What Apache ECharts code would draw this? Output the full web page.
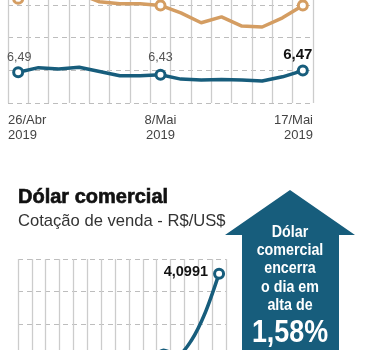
<!DOCTYPE html>
<html>
<head>
<meta charset="utf-8">
<script src="https://cdn.jsdelivr.net/npm/echarts@6/dist/echarts.min.js"></script>
<style>
html, body { margin: 0; padding: 0; background: #fff; }
#chart { width: 369px; height: 350px; }
</style>
</head>
<body>
<div id="chart"></div>
<script>
// pregoes de 26/Abr a 17/Mai 2019 (indice do grafico de cima)
let days = ["26/Abr", "29/Abr", "30/Abr", "2/Mai", "3/Mai", "6/Mai", "7/Mai", "8/Mai", "9/Mai", "10/Mai", "13/Mai", "14/Mai", "15/Mai", "16/Mai", "17/Mai"]
let orangeValues = [31.8, 34.0, 34.3, 33.3, 30.9, 30.3, 30.3, 29.8, 27.5, 24.5, 26.3, 23.5, 23.2, 26.0, 29.8]
let tealValues = [9.4, 10.8, 10.4, 10.9, 9.6, 8.3, 8.3, 8.6, 7.3, 7.0, 7.2, 7.0, 6.7, 8.0, 9.9]
let tealLabels = {0: "6,49", 7: "6,43", 14: "6,47"}
let dateTicks = ["26/Abr\n2019", "8/Mai\n2019", "17/Mai\n2019"]

// dolar comercial, cotacao de venda ao longo do dia
let hours = ["9h30", "10h", "10h30", "11h", "11h30", "12h", "12h30", "13h", "13h30", "14h", "14h30", "15h", "15h30", "16h", "16h30"]
let dollarValues = [4.0900, 4.0908, 4.0915, 4.0920, 4.0918, 4.0926, 4.0931, 4.0936, 4.0934, 4.0938, 4.0944, 4.0941, 4.0950, 4.0967, 4.0991]

const TEAL = "#175d7c"
const ORANGE = "#d49d62"
const GRID = "#cccccc"
const NARROW = "bold 17px 'Liberation Sans', sans-serif"

let chart = echarts.init(document.getElementById("chart"), null, {renderer: "canvas"})

let tealData = tealValues.map((v, i) => {
	let item = {value: v, symbol: "none"}
	if (tealLabels[i] !== undefined) {
		item.symbol = "circle"
		let last = i === tealValues.length - 1
		item.label = {
			show: true,
			position: "top",
			distance: i === 7 ? 5 : (last ? 2 : 2),
			offset: i === 0 ? [1, 0] : (last ? [-5, 0] : [0, 0]),
			formatter: tealLabels[i],
			fontFamily: "Liberation Sans",
			fontSize: last ? 15 : 12.5,
			fontWeight: last ? "bold" : "normal",
			color: last ? "#111" : "#555"
		}
	}
	return item
})

let orangeData = orangeValues.map((v, i) => ({
	value: v,
	symbol: tealLabels[i] !== undefined ? "circle" : "none"
}))

let dollarData = dollarValues.map((v, i) => {
	let last = i === dollarValues.length - 1
	let item = {value: v, symbol: last ? "circle" : "none"}
	if (last) {
		item.label = {
			show: true,
			position: "left",
			distance: 5,
			offset: [0, -2],
			formatter: v.toFixed(4).replace(".", ","),
			fontFamily: "Liberation Sans",
			fontSize: 14.5,
			fontWeight: "bold",
			color: "#111"
		}
	}
	return item
})

let option = {
	animation: false,
	title: [
		{
			text: "Dólar comercial",
			left: 18,
			top: 187,
			padding: 0,
			textStyle: {fontFamily: "Liberation Sans", fontSize: 20, fontWeight: "bold", color: "#111",
				textBorderColor: "#111", textBorderWidth: 0.6}
		},
		{
			text: "Cotação de venda - R$/US$",
			left: 18,
			top: 213,
			padding: 0,
			textStyle: {fontFamily: "Liberation Sans", fontSize: 16.6, fontWeight: "normal", color: "#333"}
		}
	],
	grid: [
		{left: 8, right: 56, top: -28, bottom: 247, outerBoundsMode: "none", containLabel: false},
		{left: 18, right: 143, top: 259, bottom: -137, outerBoundsMode: "none", containLabel: false}
	],
	xAxis: [
		{
			gridIndex: 0,
			type: "category",
			data: days,
			boundaryGap: true,
			axisLine: {show: false},
			axisTick: {show: false},
			axisLabel: {show: false},
			splitLine: {show: true, interval: 0, lineStyle: {color: GRID, width: 1.3}}
		},
		{
			gridIndex: 0,
			type: "value",
			min: 0,
			max: 15,
			interval: 7.5,
			position: "bottom",
			axisLine: {show: false},
			axisTick: {show: false},
			splitLine: {show: false},
			axisLabel: {
				margin: 10,
				alignMinLabel: "left",
				alignMaxLabel: "right",
				lineHeight: 15,
				fontFamily: "Liberation Sans",
				fontSize: 13,
				color: "#444",
				formatter: v => dateTicks[Math.round(v / 7.5)]
			}
		},
		{
			gridIndex: 1,
			type: "category",
			data: hours,
			boundaryGap: true,
			axisLine: {show: false},
			axisTick: {show: false},
			axisLabel: {show: false},
			splitLine: {show: true, interval: 0, lineStyle: {color: GRID, width: 1.3}}
		}
	],
	yAxis: [
		{
			gridIndex: 0,
			type: "value",
			min: 0,
			max: 40,
			interval: 10,
			axisLine: {show: false},
			axisTick: {show: false},
			axisLabel: {show: false},
			splitLine: {lineStyle: {color: "#bdbdbd", type: [5, 4], width: 1}}
		},
		{
			gridIndex: 1,
			type: "value",
			min: 4.086,
			max: 4.1,
			interval: 0.002,
			axisLine: {show: false},
			axisTick: {show: false},
			axisLabel: {show: false},
			splitLine: {lineStyle: {color: "#bdbdbd", type: [5, 4], width: 1}}
		}
	],
	series: [
		{
			name: "laranja",
			type: "line",
			xAxisIndex: 0,
			yAxisIndex: 0,
			data: orangeData,
			symbolSize: 9,
			lineStyle: {color: ORANGE, width: 3.5},
			itemStyle: {color: "#fff", borderColor: ORANGE, borderWidth: 3},
			z: 3
		},
		{
			name: "azul",
			type: "line",
			xAxisIndex: 0,
			yAxisIndex: 0,
			data: tealData,
			symbolSize: 9,
			lineStyle: {color: TEAL, width: 3.5},
			itemStyle: {color: "#fff", borderColor: TEAL, borderWidth: 3},
			z: 3
		},
		{
			name: "Dólar comercial",
			type: "line",
			xAxisIndex: 2,
			yAxisIndex: 1,
			data: dollarData,
			smooth: 0.3,
			symbolSize: 9,
			lineStyle: {color: TEAL, width: 3.5},
			itemStyle: {color: "#fff", borderColor: TEAL, borderWidth: 3},
			z: 3
		}
	],
	graphic: [
		{
			type: "polygon",
			shape: {points: [[225, 235], [290, 190], [355, 235], [339, 235], [339, 360], [242, 360], [242, 235]]},
			style: {fill: TEAL}
		},
		{
			type: "text",
			x: 290,
			y: 223,
			scaleX: 0.84,
			style: {
				text: "Dólar\ncomercial\nencerra\no dia em\nalta de",
				align: "center",
				verticalAlign: "top",
				lineHeight: 18.3,
				fill: "#fff",
				font: NARROW
			}
		},
		{
			type: "text",
			x: 290,
			y: 333,
			scaleX: 0.84,
			style: {
				text: "1,58%",
				align: "center",
				verticalAlign: "middle",
				fill: "#fff",
				font: "bold 32px 'Liberation Sans', sans-serif"
			}
		},
		{
			type: "text",
			x: 290,
			y: 349,
			scaleX: 0.84,
			style: {
				text: "em relação",
				align: "center",
				verticalAlign: "top",
				fill: "#fff",
				font: NARROW
			}
		}
	]
}

chart.setOption(option)
window.onresize = chart.resize
</script>
</body>
</html>
